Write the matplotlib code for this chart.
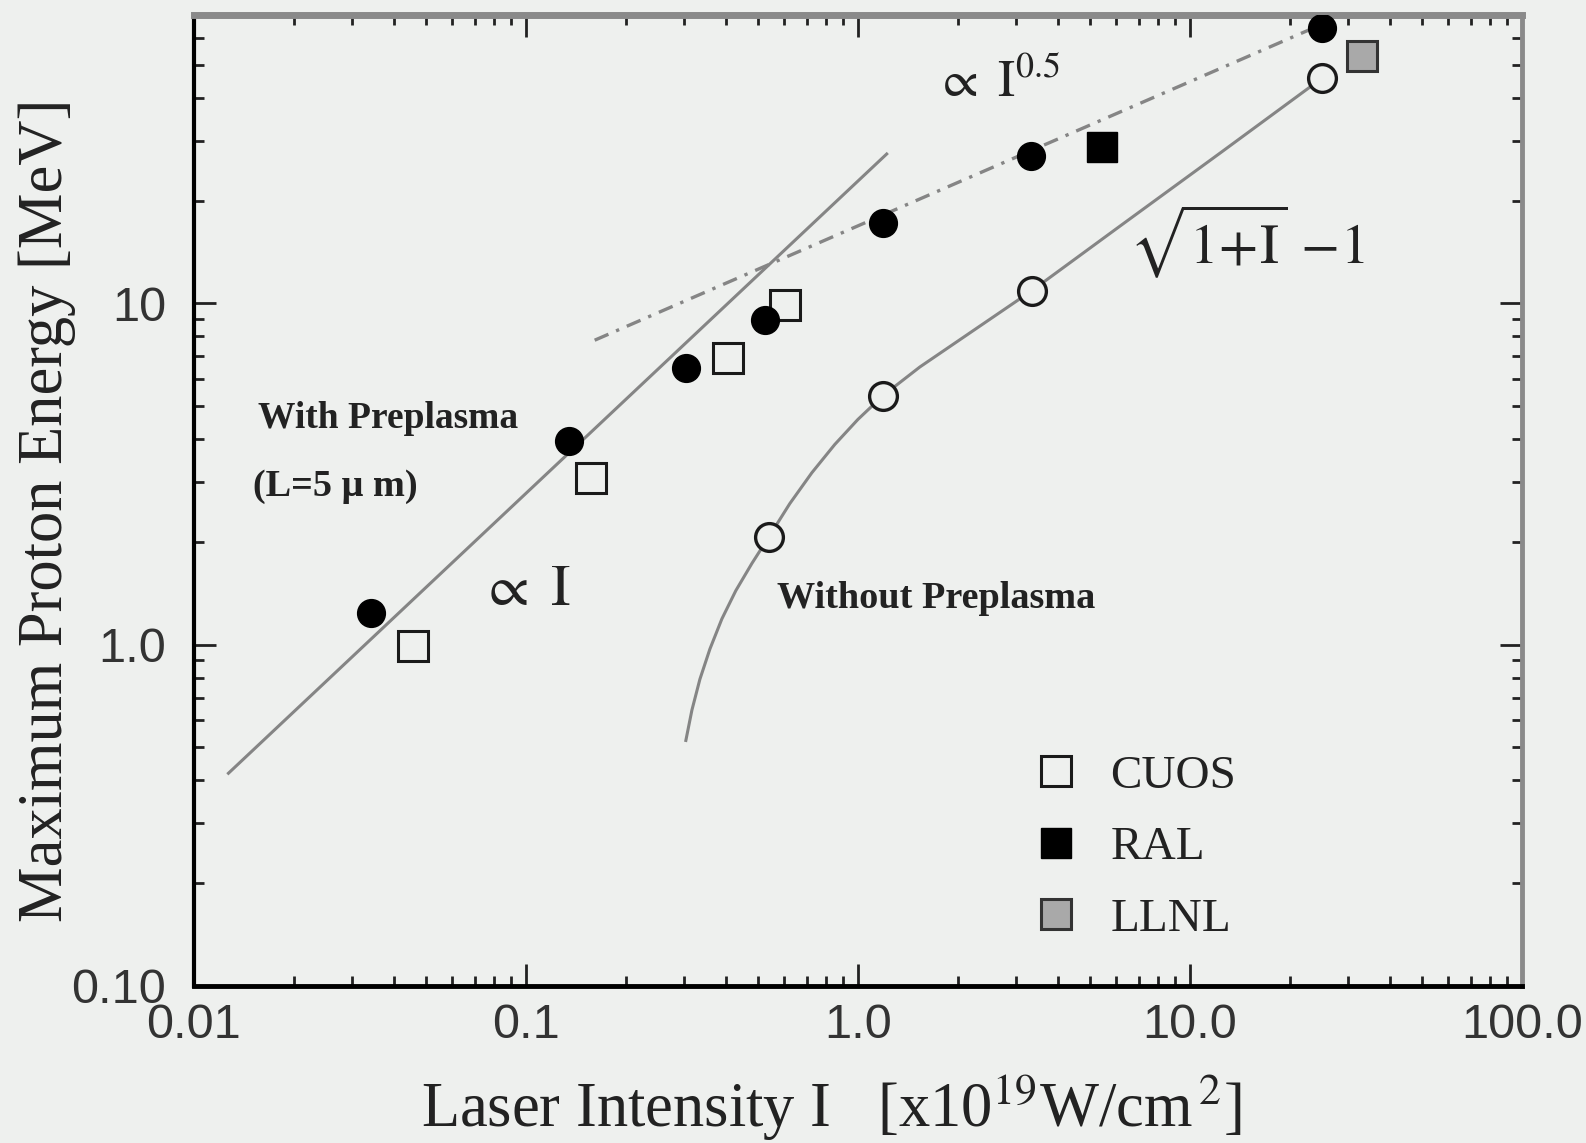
import numpy as np
import matplotlib
matplotlib.use('Agg')
import matplotlib.pyplot as plt
from matplotlib.lines import Line2D
from matplotlib.ticker import FixedLocator, FixedFormatter, LogLocator, NullFormatter

plt.rcParams['font.family'] = ['Liberation Serif', 'DejaVu Serif']
plt.rcParams['mathtext.fontset'] = 'stix'

# laser intensity [1e19 W/cm^2] and max proton energy [MeV]
ral_pre_I = [0.0341, 0.1346, 0.303, 0.524, 1.19, 3.31, 24.9]
ral_pre_E = [1.24, 3.94, 6.45, 8.93, 17.2, 27.0, 64.3]

cuos_I = [0.0456, 0.157, 0.405, 0.602]
cuos_E = [0.99, 3.07, 6.90, 9.88]

ral_sq_I = [5.42]
ral_sq_E = [28.8]

llnl_I = [32.9]
llnl_E = [53.2]

nopre_I = [0.539, 1.19, 3.34, 24.9]
nopre_E = [2.07, 5.37, 10.9, 45.6]

# guide lines
lin_I = [0.0127, 1.22]
lin_E = [0.42, 27.4]
half_I = [0.161, 23.7]
half_E = [7.8, 64.3]
curve_I = [0.303, 0.316, 0.334, 0.358, 0.389, 0.4285, 0.479, 0.539, 0.623,
           0.726, 0.851, 0.999, 1.19, 1.535, 3.34, 6.18, 12.46, 24.9]
curve_E = [0.524, 0.643, 0.792, 0.971, 1.19, 1.44, 1.73, 2.07, 2.59,
           3.19, 3.86, 4.57, 5.37, 6.51, 10.9, 16.9, 27.8, 45.6]

x_ticks = [0.01, 0.1, 1.0, 10.0, 100.0]
x_labels = ['0.01', '0.1', '1.0', '10.0', '100.0']
y_ticks = [0.1, 1.0, 10.0]
y_labels = ['0.10', '1.0', '10']

bg = '#eef0ee'
ink = '#222222'
fig = plt.figure(figsize=(15.86, 11.43), dpi=100, facecolor=bg)
ax = fig.add_axes([0.1223, 0.1374, 0.8374, 0.8495], facecolor=bg)
ax.set_xscale('log')
ax.set_yscale('log')
ax.set_xlim(0.01, 100)
ax.set_ylim(0.1, 70)

line_c = '#858585'
ax.plot(lin_I, lin_E, color=line_c, lw=2.2, zorder=2)
ax.plot(half_I, half_E, color=line_c, lw=2.4, ls=(0, (4.5, 2.5, 1, 2.5)), zorder=2)
ax.plot(curve_I, curve_E, color=line_c, lw=2.2, zorder=2)

ax.plot(ral_pre_I, ral_pre_E, 'o', ms=20, mfc='black', mec='black', zorder=4)
ax.plot(cuos_I, cuos_E, 's', ms=21, mfc=bg, mec='#1a1a1a', mew=2.2, zorder=3)
ax.plot(ral_sq_I, ral_sq_E, 's', ms=21, mfc='black', mec='black', zorder=3)
ax.plot(llnl_I, llnl_E, 's', ms=21, mfc='#a9a9a9', mec='#333333', mew=2.2, zorder=3)
ax.plot(nopre_I, nopre_E, 'o', ms=20, mfc=bg, mec='#1a1a1a', mew=2.4, zorder=4)

# annotations
ax.text(0.0156, 4.6, 'With Preplasma', fontsize=27, fontweight='bold', va='center', color=ink)
ax.text(0.01507, 2.90, '(L=5 μ m)', fontsize=27.5, fontweight='bold', va='center', color=ink)
ax.text(0.0725, 1.44, r'$\propto\ \mathrm{I}$', fontsize=42, va='center', color=ink)
ax.text(0.569, 1.37, 'Without Preplasma', fontsize=27.5, fontweight='bold', va='center', color=ink)
ax.text(1.70, 44.0, r'$\propto\ \mathrm{I}^{0.5}$', fontsize=37, va='center', color=ink)
ax.text(6.55, 15.2, r'$\sqrt{1\!+\!\mathrm{I}}\,-\!1$', fontsize=41, va='center', color=ink)

# legend
handles = [
    Line2D([], [], ls='none', marker='s', ms=21, mfc=bg, mec='#1a1a1a', mew=2.2),
    Line2D([], [], ls='none', marker='s', ms=21, mfc='black', mec='black'),
    Line2D([], [], ls='none', marker='s', ms=21, mfc='#a9a9a9', mec='#333333', mew=2.2),
]
leg = ax.legend(handles, ['CUOS', 'RAL', 'LLNL'], loc='upper left',
                bbox_to_anchor=(0.631, 0.238), frameon=False, fontsize=34,
                handlelength=1.0, handletextpad=0.66, labelspacing=0.6,
                borderpad=0, borderaxespad=0)
for t in leg.get_texts():
    t.set_color(ink)

# axes, ticks
ax.xaxis.set_major_locator(FixedLocator(x_ticks))
ax.xaxis.set_major_formatter(FixedFormatter(x_labels))
ax.yaxis.set_major_locator(FixedLocator(y_ticks))
ax.yaxis.set_major_formatter(FixedFormatter(y_labels))
ax.xaxis.set_minor_locator(LogLocator(base=10, subs=np.arange(2, 10), numticks=20))
ax.yaxis.set_minor_locator(LogLocator(base=10, subs=np.arange(2, 10), numticks=20))
ax.xaxis.set_minor_formatter(NullFormatter())
ax.yaxis.set_minor_formatter(NullFormatter())

ax.tick_params(which='major', direction='in', length=16, width=2, top=True, right=True,
               labelsize=35, labelcolor='#333333', color=ink,
               labelfontfamily='Liberation Sans')
ax.tick_params(which='minor', direction='in', length=7, width=2, top=True, right=True, color=ink)
ax.tick_params(axis='x', which='major', pad=12)
ax.tick_params(axis='y', which='major', pad=20)

ax.spines['left'].set_linewidth(3)
ax.spines['bottom'].set_linewidth(3.5)
ax.spines['left'].set_color('black')
ax.spines['bottom'].set_color('black')
ax.spines['top'].set_linewidth(5)
ax.spines['top'].set_color('#8a8a8a')
ax.spines['right'].set_linewidth(3.5)
ax.spines['right'].set_color('#8a8a8a')

ax.set_xlabel(r'Laser Intensity I   [x10$^{19}$W/cm$^{\,2}$]', fontsize=45, color=ink)
ax.set_ylabel('Maximum Proton Energy [MeV]', fontsize=45, color=ink)
ax.xaxis.set_label_coords(0.48, -0.125)
ax.xaxis.label.set_va('center')
ax.yaxis.set_label_coords(-0.111, 0.49)
ax.yaxis.label.set_va('center')

fig.savefig('out.png', dpi=100, facecolor=bg)
